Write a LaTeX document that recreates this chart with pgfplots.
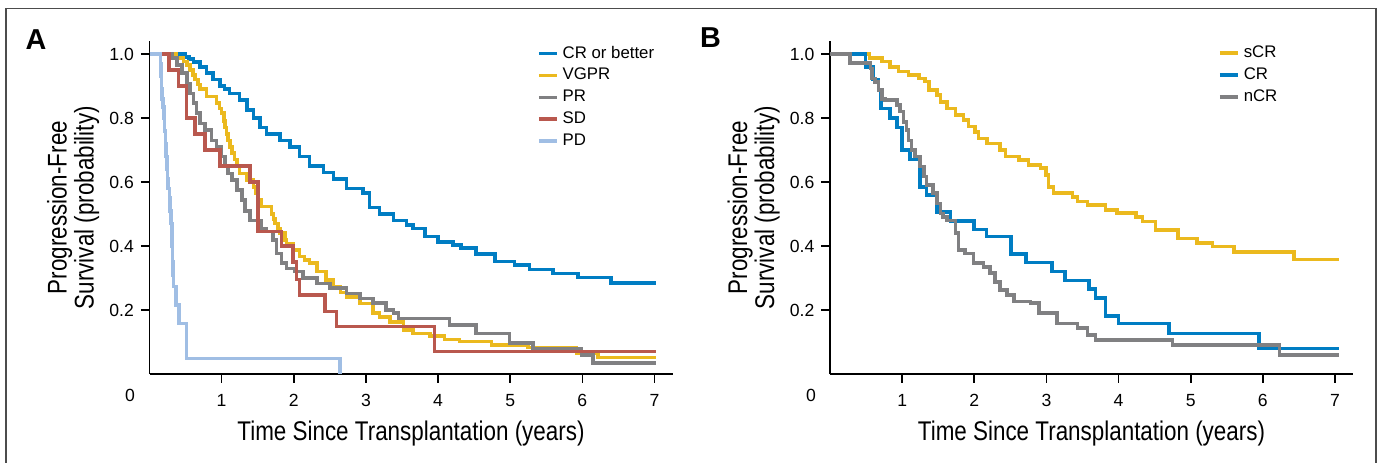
\documentclass[border=0pt]{standalone}
\usepackage{fontspec}
\setmainfont{Liberation Sans}
\newfontfamily\condfont[FakeStretch=0.83]{Liberation Sans}
\usepackage{pgfplots}
\pgfplotsset{compat=1.18}

\definecolor{kmblue}{RGB}{0,125,195}
\definecolor{kmyellow}{RGB}{235,185,30}
\definecolor{kmgray}{RGB}{128,128,130}
\definecolor{kmred}{RGB}{185,88,78}
\definecolor{kmlight}{RGB}{160,190,228}

\newcommand\tickfont{\fontsize{8.8}{9}\selectfont}
\newcommand\labfont{\condfont\fontsize{13.5}{13.5}\selectfont}
\newcommand\legfont{\fontsize{8.4}{10}\selectfont}
\newcommand\panelfont{\bfseries\fontsize{14.4}{15}\selectfont}

\pgfplotsset{
  kmaxis/.style={
    scale only axis, anchor=south west,
    width=261.5pt, height=166.4pt,
    xmin=0, xmax=7.25, ymin=0, ymax=1.04,
    clip mode=individual,
    axis lines*=left,
    axis line style={line width=0.8pt, black},
    tick style={line width=0.8pt, black},
    tick align=outside, major tick length=4.3pt,
    xtick={1,2,3,4,5,6,7},
    ytick={0.2,0.4,0.6,0.8,1.0},
    /pgf/number format/assume math mode=true,
    yticklabel style={/pgf/number format/fixed, /pgf/number format/fixed zerofill, /pgf/number format/precision=1},
    xticklabel style={yshift=-2.5pt},
    tick label style={font=\tickfont},
    xlabel={Time Since Transplantation (years)},
    ylabel={Progression-Free\\Survival (probability)},
    xlabel style={font=\labfont, at={(axis description cs:0.5,0)}, anchor=center, yshift=-30pt},
    ylabel style={font=\labfont, align=center, at={(axis description cs:-0.146,0.5)}, anchor=center},
    legend cell align=left,
    legend image code/.code={\draw[#1] (0pt,0pt) -- (9pt,0pt);},
    legend style={anchor=north west, draw=none, fill=none, inner sep=0pt,
      font=\legfont, row sep=-0.45pt},
    every axis plot/.append style={const plot, line width=1.8pt, line join=miter, no markers},
  }
}

\begin{document}
\begin{tikzpicture}
\useasboundingbox (0,0) rectangle (690.5pt,-231pt);
\draw[line width=0.7pt, black!70] (3pt,-232pt) -- (3pt,-4.2pt) -- (688pt,-4.2pt) -- (688pt,-232pt);
\node[font=\panelfont] at (18pt,-20pt) {A};
\node[font=\panelfont] at (355.25pt,-19pt) {B};

\begin{axis}[kmaxis, at={(74.75pt,-187pt)},
  legend style={at={(axis cs:5.367,1.039)}}]
\addplot[kmblue] coordinates {(0,1) (0.49,0.99) (0.55,0.985) (0.61,0.975) (0.70,0.96) (0.79,0.94) (0.88,0.92) (0.98,0.90) (1.04,0.89) (1.11,0.877) (1.25,0.856) (1.35,0.825) (1.44,0.80) (1.53,0.77) (1.62,0.75) (1.81,0.73) (1.95,0.71) (2.08,0.68) (2.22,0.65) (2.41,0.63) (2.55,0.61) (2.73,0.58) (2.96,0.565) (3.05,0.52) (3.19,0.50) (3.38,0.48) (3.56,0.466) (3.65,0.455) (3.82,0.43) (4.00,0.413) (4.21,0.403) (4.32,0.393) (4.53,0.375) (4.79,0.351) (5.06,0.34) (5.27,0.327) (5.59,0.314) (5.94,0.302) (6.40,0.285) (7.02,0.285)};
\addlegendentry{CR or better}
\addplot[kmyellow] coordinates {(0,1) (0.37,0.987) (0.47,0.976) (0.52,0.965) (0.56,0.95) (0.60,0.935) (0.63,0.92) (0.67,0.905) (0.70,0.89) (0.79,0.867) (0.93,0.846) (0.97,0.83) (1.00,0.815) (1.03,0.79) (1.05,0.77) (1.07,0.75) (1.09,0.73) (1.12,0.71) (1.14,0.69) (1.18,0.67) (1.21,0.65) (1.25,0.627) (1.35,0.606) (1.44,0.585) (1.48,0.565) (1.51,0.544) (1.55,0.523) (1.69,0.50) (1.72,0.485) (1.74,0.47) (1.78,0.455) (1.81,0.44) (1.88,0.418) (1.90,0.408) (1.99,0.387) (2.08,0.367) (2.15,0.356) (2.22,0.346) (2.32,0.32) (2.45,0.294) (2.55,0.273) (2.65,0.255) (2.73,0.24) (2.92,0.22) (3.10,0.19) (3.19,0.179) (3.33,0.163) (3.52,0.1375) (3.65,0.127) (3.89,0.119) (4.09,0.108) (4.30,0.101) (4.74,0.091) (5.25,0.083) (5.92,0.065) (6.22,0.052) (7.02,0.052)};
\addlegendentry{VGPR}
\addplot[kmgray] coordinates {(0,1) (0.31,0.987) (0.38,0.966) (0.45,0.94) (0.52,0.908) (0.56,0.877) (0.61,0.846) (0.65,0.815) (0.70,0.783) (0.77,0.763) (0.86,0.73) (0.93,0.71) (1.00,0.68) (1.05,0.648) (1.09,0.627) (1.14,0.606) (1.21,0.575) (1.28,0.544) (1.32,0.51) (1.39,0.48) (1.55,0.455) (1.62,0.445) (1.71,0.418) (1.76,0.377) (1.83,0.346) (1.90,0.33) (2.02,0.32) (2.13,0.30) (2.32,0.283) (2.50,0.268) (2.73,0.252) (2.92,0.236) (3.10,0.221) (3.28,0.20) (3.38,0.19) (3.45,0.174) (4.16,0.153) (4.53,0.127) (4.99,0.096) (5.32,0.08) (5.99,0.059) (6.15,0.035) (7.02,0.035)};
\addlegendentry{PR}
\addplot[kmred] coordinates {(0,1) (0.27,0.95) (0.40,0.90) (0.515,0.80) (0.63,0.75) (0.77,0.70) (0.98,0.65) (1.39,0.60) (1.50,0.445) (1.83,0.40) (1.99,0.35) (2.04,0.295) (2.08,0.247) (2.43,0.195) (2.59,0.148) (3.95,0.07) (7.02,0.07)};
\addlegendentry{SD}
\addplot[kmlight] coordinates {(0,1) (0.155,0.97) (0.16,0.93) (0.165,0.89) (0.17,0.86) (0.19,0.835) (0.20,0.80) (0.21,0.76) (0.22,0.72) (0.23,0.68) (0.24,0.64) (0.25,0.61) (0.26,0.58) (0.275,0.55) (0.285,0.51) (0.295,0.47) (0.31,0.44) (0.315,0.40) (0.32,0.35) (0.325,0.31) (0.33,0.273) (0.367,0.216) (0.41,0.158) (0.515,0.049) (2.64,0) (2.64,0)};
\addlegendentry{PD}
\node[font=\tickfont] at (axis cs:0,0) [xshift=-9.75pt, yshift=-10.5pt] {0};
\end{axis}

\begin{axis}[kmaxis, at={(415pt,-187pt)},
  legend style={at={(axis cs:5.375,1.039)}}]
\addplot[kmyellow] coordinates {(0,1) (0.55,0.987) (0.72,0.976) (0.83,0.96) (0.95,0.945) (1.09,0.934) (1.23,0.924) (1.32,0.914) (1.37,0.887) (1.48,0.872) (1.53,0.85) (1.62,0.83) (1.74,0.81) (1.85,0.794) (1.92,0.773) (2.01,0.757) (2.06,0.736) (2.18,0.72) (2.36,0.70) (2.43,0.68) (2.62,0.669) (2.75,0.653) (2.92,0.643) (2.99,0.622) (3.03,0.585) (3.10,0.565) (3.36,0.554) (3.43,0.539) (3.57,0.528) (3.82,0.5125) (3.98,0.504) (4.24,0.49) (4.33,0.476) (4.51,0.45) (4.82,0.424) (5.09,0.41) (5.30,0.398) (5.60,0.382) (6.43,0.358) (7.06,0.358)};
\addlegendentry{sCR}
\addplot[kmblue] coordinates {(0,1) (0.49,0.96) (0.60,0.92) (0.67,0.8875) (0.71,0.83) (0.83,0.80) (0.93,0.77) (1.00,0.70) (1.11,0.67) (1.25,0.585) (1.34,0.56) (1.48,0.507) (1.67,0.479) (2.00,0.452) (2.17,0.43) (2.51,0.375) (2.72,0.348) (3.08,0.32) (3.26,0.292) (3.59,0.265) (3.68,0.237) (3.82,0.181) (4.00,0.158) (4.70,0.127) (5.95,0.08) (7.06,0.08)};
\addlegendentry{CR}
\addplot[kmgray] coordinates {(0,1) (0.28,0.971) (0.56,0.955) (0.58,0.924) (0.625,0.913) (0.67,0.8875) (0.72,0.86) (0.76,0.856) (0.93,0.84) (0.97,0.82) (1.02,0.788) (1.06,0.7625) (1.09,0.73) (1.13,0.70) (1.18,0.68) (1.25,0.648) (1.30,0.617) (1.34,0.59) (1.43,0.565) (1.48,0.533) (1.53,0.502) (1.57,0.49) (1.62,0.48) (1.74,0.44) (1.78,0.3875) (1.875,0.377) (1.99,0.346) (2.13,0.335) (2.22,0.315) (2.29,0.288) (2.36,0.2625) (2.45,0.247) (2.55,0.226) (2.78,0.221) (2.90,0.19) (3.15,0.158) (3.43,0.143) (3.57,0.122) (3.68,0.106) (4.75,0.09) (6.23,0.06) (7.06,0.06)};
\addlegendentry{nCR}
\node[font=\tickfont] at (axis cs:0,0) [xshift=-9.5pt, yshift=-10.5pt] {0};
\end{axis}
\end{tikzpicture}
\end{document}
